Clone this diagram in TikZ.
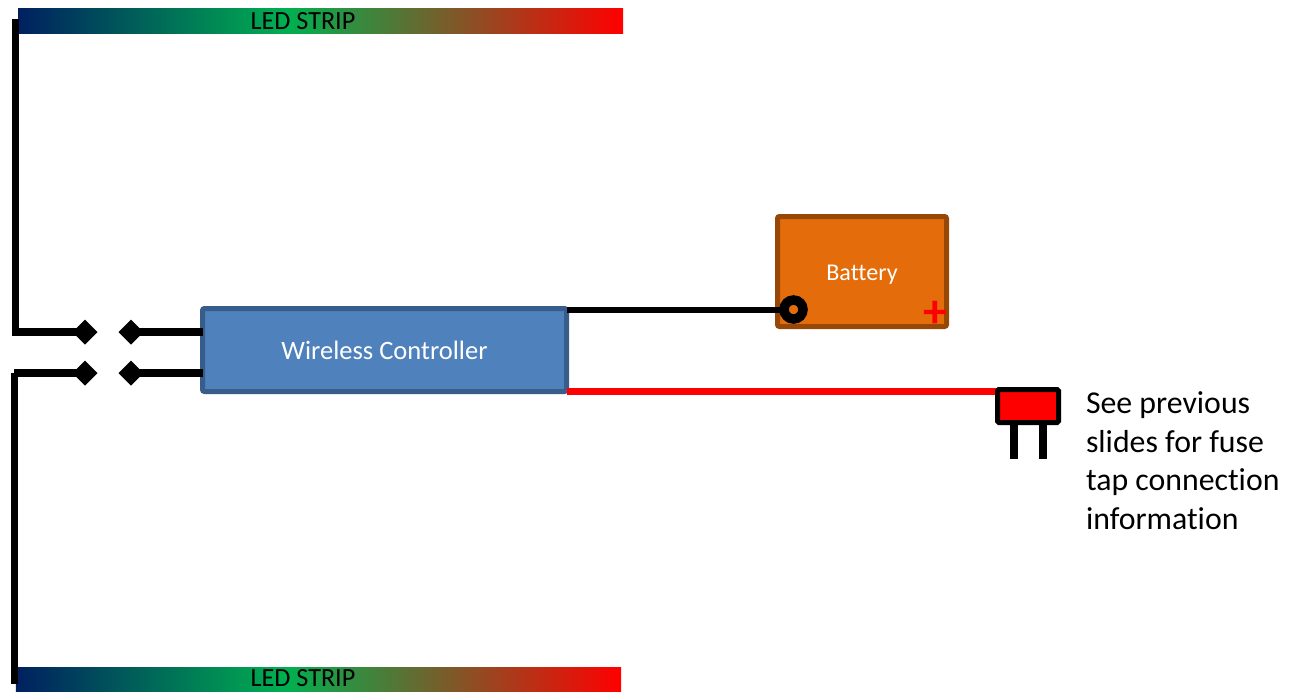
\documentclass[tikz,border=0pt]{standalone}
\usepackage{fontspec}
\setmainfont{Carlito}[Ligatures=NoCommon]
\usepackage{tikz}
\usetikzlibrary{shapes.geometric}
\definecolor{ctrlblue}{RGB}{79,129,189}
\definecolor{ctrlline}{RGB}{56,93,138}
\definecolor{battfill}{RGB}{228,108,10}
\definecolor{battline}{RGB}{152,72,6}
\definecolor{ledblue}{RGB}{0,32,96}
\definecolor{ledgreen}{RGB}{0,176,80}
\pgfdeclarehorizontalshading{ledshade}{100bp}{
  color(0bp)=(ledblue);
  color(25bp)=(ledblue);
  color(47.3bp)=(ledgreen);
  color(75bp)=(red);
  color(100bp)=(red)}

\begin{document}
\begin{tikzpicture}[
    every node/.style={outer sep=0, inner sep=0},
    wire/.style={line width=0.15cm, black},
    plug/.style={diamond, fill=black, minimum size=0.5cm},
    strip/.style={shading=ledshade, minimum width=12.1cm, minimum height=0.5cm},
    striptext/.style={font=\fontsize{14.9}{16}\selectfont, text=black}
  ]
  \useasboundingbox (0, 0) rectangle (25.84, -13.82);

  \node[strip] (1) at (6.41, -0.41){};
  \node[strip, minimum height=0.48cm] (2) at (6.37, -13.58){};
  \node[striptext] (3) at (6.06, -0.43){LED STRIP};
  \node[striptext] (4) at (6.06, -13.57){LED STRIP};

  \node[plug] (a1) at (1.7, -6.64){};
  \node[plug] (a2) at (2.62, -6.64){};
  \node[plug] (b1) at (1.7, -7.46){};
  \node[plug] (b2) at (2.62, -7.46){};

  \coordinate (ta) at (0.31, -0.38);
  \coordinate (tb) at (0.31, -6.64);
  \coordinate (ua) at (0.29, -7.46);
  \coordinate (ub) at (0.29, -13.68);

  \node[draw=ctrlline, fill=ctrlblue, line width=0.1cm, rounded corners=0.04cm,
    minimum width=7.28cm, minimum height=1.66cm, text=white,
    font=\fontsize{15.1}{16}\selectfont] (ctrl) at (7.69, -7.0){Wireless Controller};

  \draw[wire] (ta) -- (tb) -- (a1.center);
  \draw[wire] (ua) -- (ub);
  \draw[wire] (ua) -- (b1.center);
  \draw[wire] (a2.center) -- (a2 -| ctrl.west);
  \draw[wire] (b2.center) -- (b2 -| ctrl.west);

  \node[draw=battline, fill=battfill, line width=0.1cm, rounded corners=0.04cm,
    minimum width=3.38cm, minimum height=2.2cm, text=white, text height=0.34cm, text depth=0cm,
    font=\fontsize{13.7}{15}\selectfont] (batt) at (17.24, -5.43){Battery};
  \node[circle, draw=black, fill=battfill, line width=0.19cm, minimum size=0.38cm] (ring) at (15.87, -6.19){};
  \node[text=red, font=\bfseries\fontsize{27}{27}\selectfont] (plus) at (18.7, -6.28){+};

  \draw[line width=0.12cm, black] (ring) -- (ring -| ctrl.east);

  \coordinate (tap) at (19.95, -7.83);
  \coordinate (la) at (20.28, -9.18);
  \coordinate (lb) at (20.86, -9.18);
  \draw[line width=0.13cm, red] (tap) -- (tap -| ctrl.east);

  \node[draw=black, fill=red, line width=0.1cm, rounded corners=0.03cm,
    minimum width=1.22cm, minimum height=0.66cm] (fuse) at (20.56, -8.12){};
  \draw[line width=0.16cm, black] (la) -- (la |- fuse.south);
  \draw[line width=0.16cm, black] (lb) -- (lb |- fuse.south);

  \node[anchor=north west, align=left, font=\fontsize{18.1}{21.9}\selectfont] (note) at (21.72, -7.84){See previous\\slides for fuse\\tap connection\\information};
\end{tikzpicture}
\end{document}
